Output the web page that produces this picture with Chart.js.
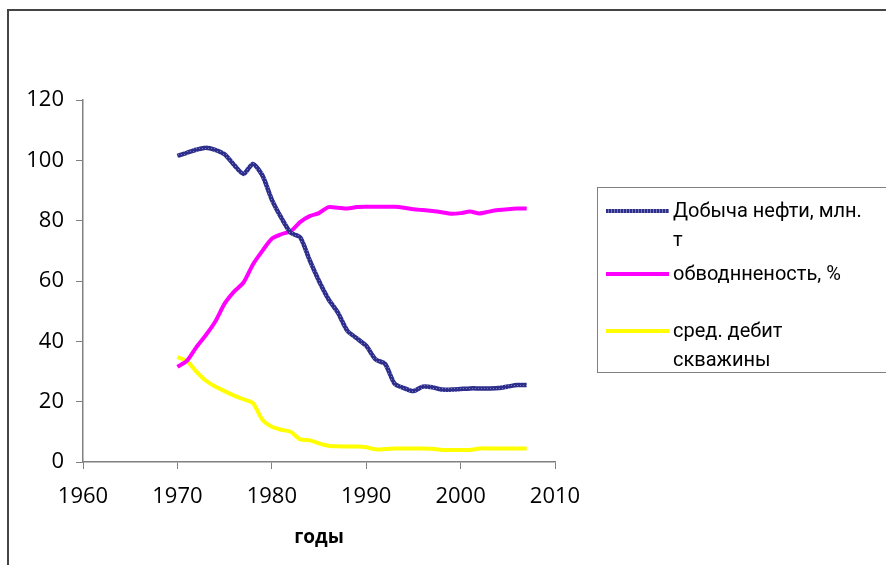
<!DOCTYPE html>
<html>
<head>
<meta charset="utf-8">
<script src="https://cdn.jsdelivr.net/npm/chart.js@4.4.1/dist/chart.umd.min.js"></script>
<style>
    body { margin: 0; background: #fff; }
    #wrap { position: relative; width: 886px; height: 565px; overflow: hidden; }
    #frame { position: absolute; left: 7px; top: 9px; right: -5px; bottom: -5px; border-top: 2px solid #444; border-left: 2px solid #444; }
    #legend { position: absolute; left: 597px; top: 187px; width: 300px; height: 184px; border: 1px solid #808080; font-family: Roboto, "Liberation Sans", sans-serif; font-size: 20px; color: #000; }
    .item { position: absolute; left: 8px; }
    .item .swatch { position: absolute; left: 0; width: 63px; height: 4px; }
    .item .txt { position: absolute; left: 67px; width: 220px; line-height: 29px; white-space: nowrap; }
</style>
</head>
<body>
<div id="wrap">
    <canvas id="chart" width="886" height="565"></canvas>
    <div id="frame"></div>
    <div id="legend"></div>
</div>
<script>
const years = [1970, 1971, 1972, 1973, 1974, 1975, 1976, 1977, 1978, 1979,
    1980, 1981, 1982, 1983, 1984, 1985, 1986, 1987, 1988, 1989,
    1990, 1991, 1992, 1993, 1994, 1995, 1996, 1997, 1998, 1999,
    2000, 2001, 2002, 2003, 2004, 2005, 2006, 2007];

// Добыча нефти, млн. т
const oilOutput = [101.5, 102.5, 103.5, 104.2, 103.5, 102, 98.5, 95.5, 98.8, 95,
    87, 81, 76, 74.5, 67, 60, 54, 49.5, 43.5, 41,
    38.5, 34, 32.5, 26, 24.5, 23.5, 25, 24.8, 24, 24,
    24.2, 24.4, 24.4, 24.4, 24.5, 25, 25.5, 25.5];

// обводнненость, %
const waterCut = [31.6, 33.5, 38, 42, 46.5, 52.5, 56.5, 59.5, 65.5, 70,
    74, 75.5, 76.5, 79.5, 81.5, 82.5, 84.5, 84.3, 84, 84.5,
    84.6, 84.6, 84.6, 84.6, 84.3, 83.8, 83.5, 83.2, 82.8, 82.3,
    82.5, 83, 82.4, 83, 83.5, 83.8, 84, 84];

// сред. дебит скважины
const wellRate = [34.8, 33.5, 30, 27, 25, 23.5, 22, 20.8, 19.5, 14,
    11.7, 10.7, 10, 7.5, 7.2, 6.2, 5.4, 5.2, 5.1, 5.1,
    4.9, 4.2, 4.3, 4.5, 4.5, 4.5, 4.5, 4.4, 4.0, 4.0,
    4.0, 4.0, 4.5, 4.5, 4.5, 4.5, 4.5, 4.5];

const xTicks = [1960, 1970, 1980, 1990, 2000, 2010];
const yTicks = [0, 20, 40, 60, 80, 100, 120];

const seriesNames = [["Добыча нефти, млн.", "т"], ["обводнненость, %"], ["сред. дебит", "скважины"]];
const seriesColors = ["#2e2e8c", "#ff00ff", "#ffff00"];

// the navy line in the original has a speckled look, fake it with a tiny pattern
function speckle() {
    const c = document.createElement("canvas");
    c.width = 3; c.height = 3;
    const g = c.getContext("2d");
    g.fillStyle = "#2e2e8c";
    g.fillRect(0, 0, 3, 3);
    g.fillStyle = "#7a7ab8";
    g.fillRect(1, 1, 1, 1);
    return g.createPattern(c, "repeat");
}

function toPoints(values) {
    return years.map((y, i) => ({ x: y, y: values[i] }));
}

const tickFont = { family: "'Open Sans', 'Liberation Sans', sans-serif", size: 22 };

new Chart(document.getElementById("chart"), {
    type: "line",
    data: {
        datasets: [oilOutput, waterCut, wellRate].map((vals, i) => ({
            label: seriesNames[i].join(" "),
            data: toPoints(vals),
            borderColor: i === 0 ? speckle() : seriesColors[i],
            borderWidth: i === 0 ? 4.5 : 4,
            pointRadius: 0,
            tension: 0.25,
            fill: false,
        })),
    },
    options: {
        responsive: false,
        animation: false,
        layout: { padding: { left: 0, top: 100, right: 331, bottom: 12 } },
        plugins: {
            legend: { display: false },
            tooltip: { enabled: false },
        },
        scales: {
            x: {
                type: "linear",
                min: 1960,
                max: 2010,
                afterBuildTicks: (scale) => { scale.ticks = xTicks.map(v => ({ value: v })); },
                afterFit: (scale) => { scale.height = 91; },
                ticks: { font: tickFont, color: "#000", padding: 15, maxRotation: 0, callback: (v) => String(v) },
                grid: { drawOnChartArea: false, tickLength: 7, color: "#808080", tickColor: "#808080" },
                border: { color: "#808080", width: 1.5 },
                title: {
                    display: true,
                    text: "годы",
                    font: { family: "'Open Sans', 'Liberation Sans', sans-serif", size: 19, weight: "bold" },
                    color: "#000",
                    padding: { top: 8 },
                },
            },
            y: {
                min: 0,
                max: 120,
                afterBuildTicks: (scale) => { scale.ticks = yTicks.map(v => ({ value: v })); },
                afterFit: (scale) => { scale.width = 83; },
                ticks: { font: tickFont, color: "#000", padding: 12 },
                grid: { drawOnChartArea: false, tickLength: 7, color: "#808080", tickColor: "#808080" },
                border: { color: "#808080", width: 1.5 },
            },
        },
    },
});

// legend, drawn as html so the two-line labels wrap like the original
const legendTops = [23, 86, 143];
const legend = document.getElementById("legend");
seriesNames.forEach((lines, i) => {
    const item = document.createElement("div");
    item.className = "item";
    item.style.top = legendTops[i] + "px";
    const sw = document.createElement("div");
    sw.className = "swatch";
    sw.style.background = i === 0
        ? "repeating-linear-gradient(90deg, #2e2e8c 0 2px, #7a7ab8 2px 3px)"
        : seriesColors[i];
    sw.style.top = "-2px";
    const txt = document.createElement("div");
    txt.className = "txt";
    txt.style.top = "-15px";
    txt.innerHTML = lines.join("<br>");
    item.appendChild(sw);
    item.appendChild(txt);
    legend.appendChild(item);
});
</script>
</body>
</html>
